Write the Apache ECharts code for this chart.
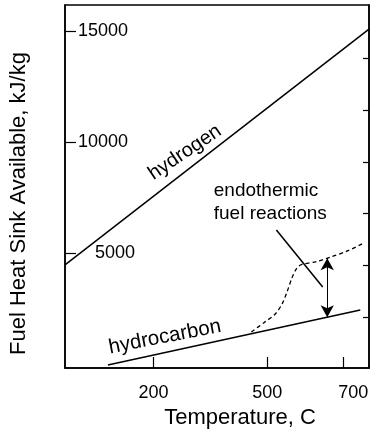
<!DOCTYPE html>
<html><head><meta charset="utf-8">
<script src="https://cdn.jsdelivr.net/npm/echarts@6/dist/echarts.min.js"></script>
<style>html,body{margin:0;padding:0;background:#fff}#c{width:380px;height:437px}</style>
</head><body><div id="c"></div>
<script>
// ---- data ----
const xTickValues = [200, 500, 700];
const yTickValues = [5000, 10000, 15000];
const rightTickValues = [1, 2, 3, 4, 5, 6];
const hydrogen = [[-33, 4470], [768, 15100]];
const hydrocarbon = [[80, -40], [745, 2440]];
const endothermic = [[458, 1445], [492, 1873], [521, 2256], [539, 2707], [552, 3249], [565, 3880],
  [578, 4331], [591, 4489], [630, 4624], [667, 4827], [711, 5098], [752, 5436]];
const arrowTop = [658, 4770];
const arrowBottom = [658, 2110];
const leaderStart = [524, 6045];
const leaderEnd = [646, 3474];
const annotations = [
  { text: 'hydrogen', at: [283, 9540], angle: 34, align: 'center', size: 20 },
  { text: 'hydrocarbon', at: [230, 1219], angle: 11, align: 'center', size: 20.5 },
  { text: 'endothermic', at: [359, 7826], angle: 0, align: 'left', size: 19 },
  { text: 'fuel reactions', at: [359, 6789], angle: 0, align: 'left', size: 19 }
];
const xName = 'Temperature, C';
const yName = 'Fuel Heat Sink Available, kJ/kg';

const FONT = "'Liberation Sans', Arial, Helvetica, sans-serif";
const chart = echarts.init(document.getElementById('c'), null, { renderer: 'canvas' });

const option = {
  animation: false,
  backgroundColor: '#fff',
  grid: { left: 61, top: 5, right: 11, bottom: 69, show: true, borderColor: '#000', borderWidth: 1.5, backgroundColor: 'transparent' },
  xAxis: {
    type: 'value', min: -33, max: 768,
    name: xName, nameLocation: 'middle', nameGap: 39,
    nameTextStyle: { fontFamily: FONT, fontSize: 22, color: '#000', padding: [0, 0, 0, 46] },
    axisLine: { show: true, onZero: false, lineStyle: { color: '#000', width: 1.5 } },
    axisTick: { show: true, inside: true, length: 11, customValues: xTickValues, lineStyle: { color: '#000', width: 1.2 } },
    axisLabel: {
      show: true, customValues: xTickValues, margin: 16, color: '#000', fontFamily: FONT, fontSize: 18,
      formatter: v => v === 700 ? '{r|700}' : '{n|' + v + '}',
      rich: { n: { fontFamily: FONT, fontSize: 18, color: '#000' }, r: { fontFamily: FONT, fontSize: 18, color: '#000', padding: [0, 0, 0, 20] } }
    },
    splitLine: { show: false }
  },
  yAxis: [{
    type: 'value', min: -180, max: 16190, position: 'left',
    name: yName, nameLocation: 'middle', nameGap: 35, nameRotate: 90,
    nameTextStyle: { fontFamily: FONT, fontSize: 22, color: '#000', padding: [0, 34, 0, 0] },
    axisLine: { show: true, onZero: false, lineStyle: { color: '#000', width: 1.5 } },
    axisTick: { show: true, inside: true, length: 11, customValues: yTickValues, lineStyle: { color: '#000', width: 1.2 } },
    axisLabel: {
      show: true, inside: true, customValues: yTickValues, margin: 13, color: '#000', fontFamily: FONT, fontSize: 18,
      formatter: v => v === 5000 ? '{s|5000}' : '{n|' + v + '}',
      rich: { n: { fontFamily: FONT, fontSize: 18, color: '#000' }, s: { fontFamily: FONT, fontSize: 18, color: '#000', padding: [0, 0, 0, 17] } }
    },
    splitLine: { show: false }
  }, {
    type: 'value', min: 0.02, max: 7.03, position: 'right',
    axisLine: { show: true, onZero: false, lineStyle: { color: '#000', width: 1.5 } },
    axisTick: { show: true, inside: true, length: 6, customValues: rightTickValues, lineStyle: { color: '#000', width: 1.2 } },
    axisLabel: { show: false },
    splitLine: { show: false }
  }],
  series: [
    { type: 'line', data: hydrogen, symbol: 'none', silent: true, lineStyle: { color: '#000', width: 1.5 } },
    {
      type: 'line', data: hydrocarbon, symbol: 'none', silent: true, lineStyle: { color: '#000', width: 1.5 },
      markLine: {
        silent: true, animation: false, label: { show: false },
        data: [
          [{ coord: arrowTop, symbol: 'arrow', symbolSize: [10, 12], lineStyle: { color: '#000', width: 1, type: 'solid' } },
           { coord: arrowBottom, symbol: 'arrow', symbolSize: [10, 12] }],
          [{ coord: leaderStart, symbol: 'none', lineStyle: { color: '#000', width: 1.5, type: 'solid' } },
           { coord: leaderEnd, symbol: 'none' }]
        ]
      }
    },
    { type: 'line', data: endothermic, symbol: 'none', smooth: 0.3, silent: true, lineStyle: { color: '#000', width: 1.3, type: [4, 3] } }
  ]
};
chart.setOption(option);

const graphics = annotations.map(a => {
  const p = chart.convertToPixel({ gridIndex: 0 }, a.at);
  return {
    type: 'text', x: p[0], y: p[1], rotation: a.angle * Math.PI / 180, silent: true,
    style: { text: a.text, fontFamily: FONT, fontSize: a.size, fill: '#000', align: a.align, verticalAlign: 'middle' }
  };
});
chart.setOption({ graphic: graphics });
</script></body></html>
